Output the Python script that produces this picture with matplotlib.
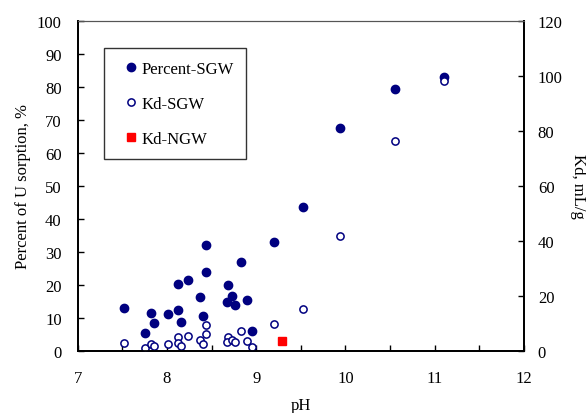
import matplotlib
matplotlib.use("Agg")
import matplotlib.pyplot as plt

plt.rcParams['font.family'] = ['Liberation Serif', 'DejaVu Serif']

ph_pct = [7.52, 7.75, 7.82, 7.85, 8.01, 8.12, 8.12, 8.16, 8.24, 8.37, 8.40, 8.44, 8.44,
          8.68, 8.73, 8.67, 8.76, 8.83, 8.90, 8.95, 9.20, 9.52, 9.94, 10.56, 11.10]
percent_sgw = [12.9, 5.4, 11.5, 8.4, 11.2, 20.3, 12.5, 8.9, 21.5, 16.3, 10.7, 32.0, 23.8,
               19.9, 16.7, 14.7, 13.9, 26.8, 15.4, 6.2, 33.1, 43.5, 67.6, 79.3, 83.0]

ph_kd = [7.52, 7.75, 7.82, 7.85, 8.01, 8.12, 8.12, 8.16, 8.24, 8.37, 8.40, 8.44, 8.44,
         8.68, 8.67, 8.73, 8.76, 8.83, 8.90, 8.95, 9.20, 9.52, 9.94, 10.56, 11.10]
kd_sgw = [2.9, 1.1, 2.7, 1.8, 2.4, 5.0, 2.9, 1.9, 5.6, 3.9, 2.4, 9.4, 6.2,
          5.0, 3.4, 4.1, 3.4, 7.2, 3.6, 1.3, 9.9, 15.4, 41.7, 76.4, 98.1]

ph_ngw = [9.29]
kd_ngw = [3.6]

navy = '#000080'
fig = plt.figure(figsize=(5.86, 4.14), dpi=100)
ax = fig.add_axes([0.1326, 0.1498, 0.894 - 0.1326, 0.9476 - 0.1498])
ax2 = ax.twinx()

l1, = ax.plot(ph_pct, percent_sgw, 'o', color=navy, markersize=6, linestyle='none',
              label='Percent-SGW', zorder=3)
l2, = ax2.plot(ph_kd, kd_sgw, 'o', markerfacecolor='white', markeredgecolor=navy,
               markeredgewidth=1.1, markersize=5.2, linestyle='none', label='Kd-SGW')
l3, = ax2.plot(ph_ngw, kd_ngw, 's', color='#ff0000', markersize=5.5, linestyle='none',
               label='Kd-NGW')

ax.set_xlim(7, 12)
ax.set_ylim(0, 100)
ax2.set_ylim(0, 120)
ax.set_xticks([7, 7.5, 8, 8.5, 9, 9.5, 10, 10.5, 11, 11.5, 12])
ax.set_xticklabels(['7', '', '8', '', '9', '', '10', '', '11', '', '12'])
ax.set_yticks(range(0, 101, 10))
ax2.set_yticks(range(0, 121, 20))

fs = 12
ax.tick_params(axis='y', direction='in', length=4, width=1, labelsize=fs, pad=11.5)
ax.tick_params(axis='x', direction='in', length=4, width=1, labelsize=fs, pad=14)
ax2.tick_params(axis='y', direction='in', length=4, width=1, labelsize=fs, pad=10)

for a in (ax, ax2):
    for s in ('left', 'bottom', 'right'):
        a.spines[s].set_linewidth(1.3)
    a.spines['top'].set_linewidth(0.8)
    a.spines['top'].set_color('#555555')

ax.set_xlabel('pH', fontsize=fs, labelpad=7.5)
ax.set_ylabel('Percent of U sorption, %', fontsize=fs, labelpad=4.5)
ax2.set_ylabel('Kd, mL/g', fontsize=fs, rotation=270, labelpad=17)

leg = ax.legend(handles=[l1, l2, l3], loc='upper left', bbox_to_anchor=(0.059, 0.917),
                frameon=True, fancybox=False, fontsize=fs, labelspacing=1.15,
                handlelength=1.75, handletextpad=-0.28, borderpad=0.75, borderaxespad=0)
leg.get_frame().set_edgecolor('black')
leg.get_frame().set_linewidth(1.0)
leg.set_zorder(10)

fig.savefig('out.png', dpi=100)
